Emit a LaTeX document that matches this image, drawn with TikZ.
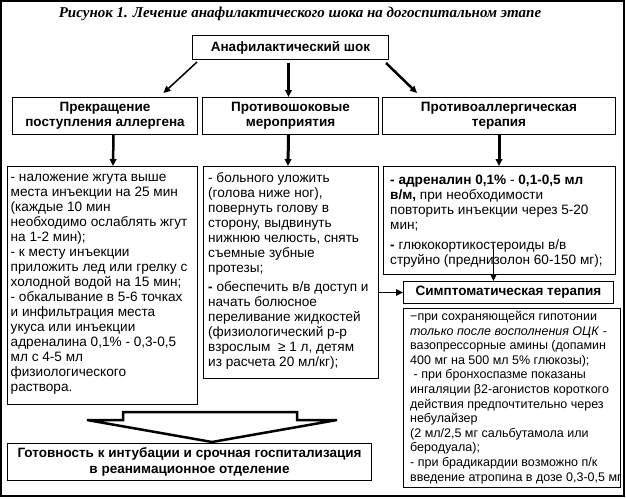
\documentclass[tikz,border=0pt]{standalone}
\usepackage{fontspec}
\setmainfont{Liberation Sans}
\newfontfamily\titlefont{Liberation Serif}
\usetikzlibrary{arrows.meta,calc}
\begin{document}
\begin{tikzpicture}[x=1pt,y=-1pt,
  box/.style={draw, line width=1pt, inner sep=0pt, anchor=north west},
  head/.style={box, align=center, font=\fontsize{13.5}{15.5}\selectfont\bfseries},
  body/.style={anchor=north west, align=left, inner sep=0pt, font=\fontsize{13.6}{15}\selectfont},
  arr/.style={-{Triangle[length=7pt,width=6.5pt]}},
]
\useasboundingbox (0,0) rectangle (626,498);
\draw[line width=1.5pt] (1,1) rectangle (624,496);

\node[inner sep=0pt] (title) at (300,14) {\titlefont\bfseries\itshape\fontsize{15}{18}\selectfont Рисунок 1. Лечение анафилактического шока на догоспитальном этапе};

\node[head, minimum width=196pt, minimum height=24pt] (top) at (192,35) {Анафилактический шок};
\node[head, minimum width=185pt, minimum height=37pt] (h1) at (12,97) {Прекращение\\поступления аллергена};
\node[head, minimum width=176pt, minimum height=37pt] (h2) at (202,97) {Противошоковые\\мероприятия};
\node[head, minimum width=233pt, minimum height=37pt] (h3) at (382,97) {Противоаллергическая\\терапия};

\node[box, minimum width=190pt, minimum height=238pt] (t1) at (7,166) {};
\node[box, minimum width=175pt, minimum height=212pt] (t2) at (203,166) {};
\node[box, minimum width=232pt, minimum height=108pt] (t3) at (383,166) {};
\node[head, minimum width=210pt, minimum height=22pt] (sh) at (403,281) {Симптоматическая терапия};
\node[box, minimum width=217pt, minimum height=179pt] (st) at (403,308) {};
\node[head, minimum width=364pt, minimum height=37pt] (fin) at (7,443) {Готовность к интубации и срочная госпитализация\\в реанимационное отделение};

\node[body] (t1t) at ($(t1.north west)+(3.5,4.5)$) {\strut- наложение жгута выше\\места инъекции на 25 мин\\(каждые 10 мин\\необходимо ослаблять жгут\\на 1-2 мин);\\- к месту инъекции\\приложить лед или грелку с\\холодной водой на 15 мин;\\- обкалывание в 5-6 точках\\и инфильтрация места\\укуса или инъекции\\адреналина 0,1\% - 0,3-0,5\\мл с 4-5 мл\\физиологического\\раствора.};

\node[body] (t2t) at ($(t2.north west)+(5,5.5)$) {\strut- больного уложить\\(голова ниже ног),\\повернуть голову в\\сторону, выдвинуть\\нижнюю челюсть, снять\\съемные зубные\\протезы;\\[4pt]\textbf{-} обеспечить в/в доступ и\\начать болюсное\\переливание жидкостей\\(физиологический р-р\\взрослым~ ≥ 1 л, детям\\из расчета 20 мл/кг);};

\node[body] (t3t) at ($(t3.north west)+(7,7.5)$) {\strut\textbf{- адреналин 0,1\%} - \textbf{0,1-0,5 мл}\\\textbf{в/м,} при необходимости\\повторить инъекции через 5-20\\мин;\\[5pt]\textbf{-} глюкокортикостероиды в/в\\струйно (преднизолон 60-150 мг);};

\node[body, font=\fontsize{12.5}{14.6}\selectfont] (stt) at ($(st.north west)+(7,2)$) {\strut−при сохраняющейся гипотонии\\\textit{только после восполнения ОЦК} -\\вазопрессорные амины (допамин\\400 мг на 500 мл 5\% глюкозы);\\\ - при бронхоспазме показаны\\ингаляции β2-агонистов короткого\\действия предпочтительно через\\небулайзер\\(2 мл/2,5 мг сальбутамола или\\беродуала);\\- при брадикардии возможно п/к\\введение атропина в дозе 0,3-0,5 мг};

% connectors
\draw[arr, line width=1.5pt] ($(top.south west)+(5,2)$) -- ($(h1.north)+(58.5,-4)$);
\draw[arr, line width=3pt] ($(top.south)+(-2,3)$) -- ($(h2.north)+(-2,0)$);
\draw[arr, line width=2.5pt] ($(top.south east)+(-3,3)$) -- ($(h3.north west)+(35,-4)$);
\draw[arr, line width=2.5pt] ($(h1.south)+(8.5,0)$) -- ($(t1.north west)+(106,0)$);
\draw[arr, line width=3pt] ($(h2.south)+(-2,0)$) -- ($(t2.north west)+(85,0)$);
\draw[arr, line width=3pt] (h3.south) -- (h3.south |- t3.north);
\draw[arr, line width=1.5pt] (t2.east |- sh.west) -- (sh.west);
\draw[arr, line width=1.5pt] ($(sh.north)+(-15,-36)$) -- ($(sh.north)+(-15,0)$);

% hollow arrow
\draw[line width=2.5pt, fill=white, line join=miter] (123,412) -- (297,412) -- (297,420) -- (337,420) -- (212,442) -- (87,420) -- (123,420) -- cycle;
\end{tikzpicture}
\end{document}
